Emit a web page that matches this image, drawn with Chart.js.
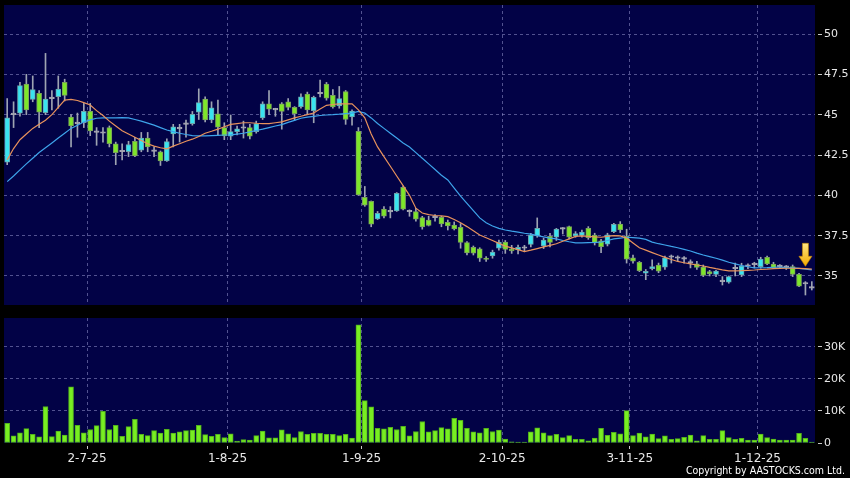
<!DOCTYPE html>
<html>
<head>
<meta charset="utf-8">
<script src="https://cdn.jsdelivr.net/npm/chart.js@4.4.1/dist/chart.umd.min.js"></script>
<style>
    html, body { margin: 0; padding: 0; background: #000; }
    #wrap { position: relative; width: 850px; height: 478px; background: #000; overflow: hidden; }
    #priceBox { position: absolute; left: 0; top: 0; width: 850px; height: 310px; }
    #volBox { position: absolute; left: 0; top: 310px; width: 850px; height: 168px; }
    #copy { position: absolute; right: 5px; top: 464px; color: #fff; white-space: nowrap;
            font: 10.5px 'DejaVu Sans Condensed', 'Liberation Sans', sans-serif; }
</style>
</head>
<body>
<div id="wrap">
    <div id="priceBox"><canvas id="price" width="850" height="310"></canvas></div>
    <div id="volBox"><canvas id="vol" width="850" height="168"></canvas></div>
    <div id="copy">Copyright by AASTOCKS.com Ltd.</div>
</div>
<script>
// trading days shown on the chart
var dates = ['12-6-25','13-6-25','16-6-25','17-6-25','18-6-25','19-6-25','20-6-25','23-6-25','24-6-25','25-6-25','26-6-25','27-6-25','30-6-25',
    '2-7-25','3-7-25','4-7-25','7-7-25','8-7-25','9-7-25','10-7-25','11-7-25','14-7-25','15-7-25','16-7-25','17-7-25','18-7-25','21-7-25','22-7-25','23-7-25','24-7-25','25-7-25','28-7-25','29-7-25','30-7-25','31-7-25',
    '1-8-25','4-8-25','5-8-25','6-8-25','7-8-25','8-8-25','11-8-25','12-8-25','13-8-25','14-8-25','15-8-25','18-8-25','19-8-25','20-8-25','21-8-25','22-8-25','25-8-25','26-8-25','27-8-25','28-8-25','29-8-25',
    '1-9-25','2-9-25','3-9-25','4-9-25','5-9-25','8-9-25','9-9-25','10-9-25','11-9-25','12-9-25','15-9-25','16-9-25','17-9-25','18-9-25','19-9-25','22-9-25','23-9-25','24-9-25','25-9-25','26-9-25','29-9-25','30-9-25',
    '2-10-25','3-10-25','6-10-25','8-10-25','9-10-25','10-10-25','13-10-25','14-10-25','15-10-25','16-10-25','17-10-25','20-10-25','21-10-25','22-10-25','23-10-25','24-10-25','27-10-25','28-10-25','30-10-25','31-10-25',
    '3-11-25','4-11-25','5-11-25','6-11-25','7-11-25','10-11-25','11-11-25','12-11-25','13-11-25','14-11-25','17-11-25','18-11-25','19-11-25','20-11-25','21-11-25','24-11-25','25-11-25','26-11-25','27-11-25','28-11-25',
    '1-12-25','2-12-25','3-12-25','4-12-25','5-12-25','8-12-25','9-12-25','10-12-25','11-12-25'];

var opens = [42.05, 45.0, 45.1, 46.9, 45.95, 46.33, 45.13, 46.0, 46.12, 47.0,
    44.85, 44.45, 44.5, 45.2, 43.9, 43.85, 44.2, 43.2, 42.7, 42.71,
    43.35, 42.8, 43.55, 42.72, 42.7, 42.13, 43.8, 44.12, 44.4, 44.45,
    45.15, 45.96, 44.68, 45.05, 44.2, 43.66, 43.95, 44.16, 44.2, 43.95,
    44.8, 45.67, 45.3, 45.67, 45.8, 45.45, 45.5, 46.27, 45.25, 46.3,
    46.9, 46.2, 45.55, 46.43, 44.86, 43.97, 39.88, 39.62, 38.53, 39.14,
    38.97, 39.03, 40.5, 38.98, 38.99, 38.62, 38.47, 38.62, 38.63, 38.33,
    38.16, 38.02, 37.07, 36.77, 36.69, 36.08, 36.25, 36.72, 37.1, 36.68,
    36.61, 36.72, 36.96, 37.48, 36.86, 37.46, 37.4, 37.9, 38.06, 37.48,
    37.52, 37.96, 37.54, 37.18, 36.97, 37.75, 38.21, 37.45, 36.12, 35.84,
    35.17, 35.45, 35.67, 35.54, 36.16, 36.1, 36.04, 35.8, 35.76, 35.55,
    35.27, 35.1, 34.65, 34.62, 35.45, 35.06, 35.6, 35.7, 35.58, 36.15,
    35.73, 35.58, 35.53, 35.58, 35.1, 34.5, 34.25];

var highs = [46.0, 45.8, 47.0, 47.5, 47.4, 46.5, 48.8, 46.5, 47.4, 47.2,
    45.0, 45.1, 45.7, 45.7, 44.2, 44.2, 44.3, 43.3, 43.2, 43.35,
    43.6, 43.9, 43.9, 43.0, 42.75, 43.5, 44.4, 44.4, 44.67, 45.2,
    46.6, 46.1, 45.8, 45.9, 44.5, 44.98, 44.3, 44.6, 44.4, 44.6,
    45.8, 46.5, 45.4, 45.75, 46.0, 45.5, 46.3, 46.4, 46.15, 47.15,
    47.0, 46.55, 46.75, 46.5, 45.3, 44.2, 40.55, 39.65, 39.0, 39.3,
    39.3, 40.17, 40.58, 39.1, 39.2, 38.7, 38.7, 38.8, 38.7, 38.47,
    38.35, 38.25, 37.13, 36.86, 36.75, 36.2, 36.6, 37.23, 37.2, 36.9,
    36.92, 36.9, 37.65, 38.6, 37.35, 37.65, 37.95, 38.0, 38.1, 37.75,
    37.85, 38.06, 37.65, 37.27, 37.65, 38.27, 38.37, 37.9, 36.3, 35.9,
    35.4, 36.0, 35.8, 36.24, 36.3, 36.25, 36.2, 36.0, 35.9, 35.68,
    35.35, 35.35, 34.96, 35.0, 35.8, 35.79, 35.75, 35.85, 36.16, 36.24,
    35.85, 35.7, 35.65, 35.68, 35.17, 34.65, 34.65];

var lows = [41.9, 44.2, 44.9, 45.0, 45.8, 44.2, 45.0, 45.3, 45.4, 45.85,
    43.0, 43.6, 44.2, 43.7, 43.1, 43.3, 43.0, 41.9, 42.2, 42.4,
    42.4, 42.7, 42.7, 42.4, 41.85, 42.1, 43.0, 43.3, 43.6, 44.35,
    44.7, 44.55, 44.5, 43.75, 43.45, 43.45, 43.75, 43.55, 43.5, 43.85,
    44.7, 45.0, 44.9, 44.1, 45.3, 44.65, 45.4, 45.0, 44.5, 46.1,
    45.9, 45.4, 45.4, 44.4, 44.35, 40.0, 39.32, 38.05, 38.5, 38.6,
    38.6, 39.0, 39.1, 38.7, 38.4, 37.9, 38.1, 38.4, 38.05, 37.85,
    37.85, 36.72, 36.3, 36.3, 35.9, 35.9, 36.1, 36.6, 36.4, 36.4,
    36.36, 36.5, 36.8, 37.4, 36.7, 36.8, 37.2, 37.6, 37.3, 37.4,
    37.4, 37.27, 36.92, 36.45, 36.86, 37.69, 37.69, 35.8, 35.8, 35.27,
    34.77, 35.37, 35.2, 35.41, 35.8, 35.9, 35.8, 35.5, 35.41, 34.96,
    35.0, 34.96, 34.44, 34.55, 35.0, 34.96, 35.45, 35.5, 35.48, 35.7,
    35.45, 35.45, 35.4, 34.96, 34.34, 33.82, 34.13];

var closes = [44.8, 45.0, 46.8, 45.3, 46.55, 45.15, 45.96, 46.0, 46.58, 46.2,
    44.3, 44.45, 45.2, 44.0, 43.9, 43.85, 43.2, 42.65, 42.7, 43.15,
    42.45, 43.55, 43.0, 42.72, 42.13, 43.33, 44.24, 44.12, 44.4, 45.02,
    45.75, 44.68, 45.42, 44.22, 43.68, 43.95, 44.12, 44.16, 43.66, 44.45,
    45.67, 45.34, 45.3, 45.2, 45.45, 45.07, 46.1, 45.3, 46.07, 46.3,
    46.03, 45.48, 46.0, 44.7, 45.22, 40.02, 39.39, 38.21, 38.89, 38.71,
    38.97, 40.13, 39.14, 38.98, 38.52, 38.04, 38.14, 38.62, 38.22, 38.11,
    37.92, 37.08, 36.43, 36.41, 36.1, 36.02, 36.48, 37.1, 36.65, 36.56,
    36.78, 36.72, 37.54, 37.96, 37.23, 37.08, 37.9, 37.9, 37.4, 37.63,
    37.72, 37.37, 37.05, 36.82, 37.55, 38.2, 37.85, 36.04, 35.91, 35.33,
    35.28, 35.58, 35.29, 36.12, 36.16, 36.1, 36.04, 35.8, 35.53, 35.03,
    35.13, 35.3, 34.65, 34.96, 35.45, 35.62, 35.6, 35.7, 36.04, 35.75,
    35.5, 35.58, 35.53, 35.1, 34.37, 34.5, 34.25];

// moving averages as drawn (orange = short, blue = long)
var maShort = [42.2, 42.9, 43.45, 43.8, 44.15, 44.4, 44.65, 45.0, 45.45, 45.9,
    45.95, 45.88, 45.75, 45.6, 45.25, 44.95, 44.6, 44.3, 44.0, 43.8,
    43.6, 43.4, 43.2, 43.05, 42.95, 42.88, 43.05, 43.2, 43.35, 43.48,
    43.65, 43.85, 43.97, 44.1, 44.25, 44.4, 44.45, 44.5, 44.5, 44.47,
    44.45, 44.45, 44.5, 44.55, 44.68, 44.8, 44.9, 45.0, 45.1, 45.35,
    45.58, 45.63, 45.67, 45.67, 45.67, 45.3, 44.8, 43.8, 43.0, 42.4,
    41.8, 41.2, 40.6, 40.0, 39.2, 38.9, 38.8, 38.75, 38.72, 38.68,
    38.5, 38.3, 38.06, 37.8, 37.54, 37.37, 37.2, 37.02, 36.85, 36.74,
    36.63, 36.51, 36.6, 36.7, 36.8, 36.9, 37.0, 37.15, 37.3, 37.45,
    37.48, 37.45, 37.42, 37.4, 37.45, 37.5, 37.48, 37.35, 37.05, 36.75,
    36.6, 36.45, 36.3, 36.15, 36.02, 35.9, 35.82, 35.75, 35.68, 35.62,
    35.53, 35.45, 35.38, 35.32, 35.32, 35.33, 35.35, 35.37, 35.4, 35.42,
    35.45, 35.47, 35.48, 35.48, 35.47, 35.45, 35.43];

var maLong = [40.85, 41.2, 41.58, 41.95, 42.3, 42.65, 42.95, 43.25, 43.55, 43.85,
    44.15, 44.35, 44.55, 44.68, 44.78, 44.8, 44.8, 44.8, 44.82, 44.8,
    44.7, 44.6, 44.48, 44.35, 44.2, 44.05, 43.95, 43.85, 43.77, 43.7,
    43.69, 43.68, 43.7, 43.72, 43.74, 43.75, 43.8, 43.85, 43.93, 44.02,
    44.1, 44.2, 44.3, 44.38, 44.52, 44.65, 44.78, 44.85, 44.9, 44.95,
    44.98, 45.0, 45.03, 45.07, 45.1, 45.2, 45.1, 44.8, 44.45, 44.15,
    43.85, 43.55, 43.25, 43.0, 42.65, 42.3, 41.95, 41.6, 41.25, 40.95,
    40.45, 39.95, 39.5, 39.05, 38.6, 38.3, 38.1, 37.95, 37.85, 37.78,
    37.72, 37.65, 37.6, 37.5, 37.42, 37.35, 37.3, 37.2, 37.12, 37.05,
    37.05, 37.07, 37.08, 37.1, 37.2, 37.3, 37.35, 37.4, 37.38, 37.35,
    37.27, 37.1, 37.0, 36.92, 36.83, 36.75, 36.65, 36.55, 36.42, 36.3,
    36.2, 36.1, 35.98, 35.85, 35.75, 35.65, 35.57, 35.5, 35.51, 35.52,
    35.54, 35.55, 35.52, 35.5, 35.47, 35.43, 35.38];

var volumes = [6100, 2200, 3200, 4500, 2700, 1900, 11400, 2000, 3750, 2500,
    17500, 5500, 3200, 4200, 5400, 9900, 4200, 5500, 2100, 5100,
    7400, 2700, 2300, 3850, 3100, 4300, 3100, 3500, 3850, 4000,
    5500, 2600, 2100, 2700, 1700, 2900, 600, 1100, 900, 2300,
    3750, 1600, 1600, 4100, 2900, 1700, 3600, 2700, 3000, 3000,
    2700, 2700, 2300, 2700, 1500, 36900, 13200, 11250, 4600, 4400,
    4900, 4200, 5200, 2200, 3600, 6700, 3500, 3850, 4800, 4400,
    7700, 7100, 4600, 3500, 3200, 4600, 3600, 4000, 1250, 400,
    200, 200, 3500, 4700, 3200, 2300, 2700, 1700, 2300, 1150,
    1150, 700, 1500, 4600, 2400, 3300, 2900, 10100, 2300, 3100,
    1900, 2800, 1350, 2200, 1150, 1350, 1800, 2500, 700, 2300,
    1150, 1150, 3850, 1700, 1150, 1450, 950, 950, 2800, 1700,
    1250, 950, 950, 950, 3000, 1450, 100];

var tickLabels = ['2-7-25', '1-8-25', '1-9-25', '2-10-25', '3-11-25', '1-12-25'];
var priceTicks = [35, 37.5, 40, 42.5, 45, 47.5, 50];
var volumeTicks = [0, 10000, 20000, 30000];

// arrow marker on the last bars
var markerIndex = 125;
var markerPrice = 35.6;

var NAVY = '#020246';
var GRID = 'rgba(150, 150, 205, 0.55)';
var TICK_TXT = '#e8e8e8';
var UP = '#3ae4f0', DOWN = '#7ee62a', FLAT = '#a8a8b4';

// grid lines sit at the left edge of the first trading day of each month
var tickPos = tickLabels.map(function (l) { return dates.indexOf(l) - 0.5; });

function candleColor(i) {
    if (closes[i] > opens[i]) return UP;
    if (closes[i] < opens[i]) return DOWN;
    return FLAT;
}

var areaFill = {
    id: 'areaFill',
    beforeDraw: function (chart) {
        var a = chart.chartArea, ctx = chart.ctx;
        ctx.save();
        ctx.fillStyle = '#000';
        ctx.fillRect(0, 0, chart.width, chart.height);
        ctx.fillStyle = NAVY;
        ctx.fillRect(a.left, a.top, a.right - a.left, a.bottom - a.top);
        ctx.restore();
    }
};

var arrowMark = {
    id: 'arrowMark',
    afterDatasetsDraw: function (chart) {
        var ctx = chart.ctx;
        var x = chart.scales.x.getPixelForValue(markerIndex);
        var tip = chart.scales.y.getPixelForValue(markerPrice);
        var g = ctx.createLinearGradient(0, tip - 23, 0, tip);
        g.addColorStop(0, '#ffe680');
        g.addColorStop(1, '#f2a900');
        ctx.save();
        ctx.beginPath();
        ctx.moveTo(x - 3, tip - 23);
        ctx.lineTo(x + 3, tip - 23);
        ctx.lineTo(x + 3, tip - 10);
        ctx.lineTo(x + 6.5, tip - 10);
        ctx.lineTo(x, tip);
        ctx.lineTo(x - 6.5, tip - 10);
        ctx.lineTo(x - 3, tip - 10);
        ctx.closePath();
        ctx.fillStyle = g;
        ctx.fill();
        ctx.strokeStyle = '#c88a00';
        ctx.lineWidth = 0.6;
        ctx.stroke();
        ctx.restore();
    }
};

function noPad(s) {
    s.paddingTop = 0;
    s.paddingBottom = 0;
    s.paddingLeft = 0;
    s.paddingRight = 0;
}

function xScale(showLabels) {
    return {
        type: 'linear',
        min: -0.5,
        max: dates.length - 0.5,
        offset: false,
        afterBuildTicks: function (s) {
            s.ticks = tickPos.map(function (v) { return { value: v }; });
        },
        afterFit: function (s) {
            s.height = showLabels ? 35 : 0;
            noPad(s);
        },
        grid: {
            color: GRID,
            offset: false,
            drawTicks: showLabels,
            tickLength: 6,
            tickColor: '#c8c8c8',
            tickBorderDash: [0, 3, 3, 20]
        },
        border: { display: false, dash: [3, 3] },
        ticks: {
            display: showLabels,
            color: TICK_TXT,
            padding: 3,
            maxRotation: 0,
            autoSkip: false,
            font: { family: 'DejaVu Sans', size: 12 },
            callback: function (v) { return tickLabels[tickPos.indexOf(v)]; }
        }
    };
}

function yScale(min, max, ticks, fmt) {
    return {
        position: 'right',
        min: min,
        max: max,
        afterBuildTicks: function (s) {
            s.ticks = ticks.map(function (v) { return { value: v }; });
        },
        afterFit: function (s) {
            s.width = 35;
            noPad(s);
        },
        grid: {
            color: function (c) { return c.tick && c.tick.value === 0 ? 'rgba(0,0,0,0)' : GRID; },
            drawTicks: true,
            tickLength: 7,
            tickColor: '#c8c8c8',
            tickBorderDash: [0, 3, 4, 20]
        },
        border: { display: false, dash: [3, 3] },
        ticks: {
            color: TICK_TXT,
            padding: 2,
            font: { family: 'DejaVu Sans', size: 11 },
            callback: fmt
        }
    };
}

new Chart(document.getElementById('price'), {
    type: 'bar',
    data: {
        datasets: [{
            type: 'line',
            data: maShort.map(function (v, i) { return { x: i, y: v }; }),
            borderColor: '#e8925c',
            borderWidth: 1.2,
            pointRadius: 0,
            tension: 0,
            order: 0
        }, {
            type: 'line',
            data: maLong.map(function (v, i) { return { x: i, y: v }; }),
            borderColor: '#3ea4ea',
            borderWidth: 1.2,
            pointRadius: 0,
            tension: 0,
            order: 1
        }, {
            data: opens.map(function (o, i) { return { x: i, y: [o, closes[i]] }; }),
            backgroundColor: function (c) { return candleColor(c.dataIndex); },
            borderColor: function (c) {
                var col = candleColor(c.dataIndex);
                return col === UP ? '#6aa4aa' : (col === DOWN ? '#7aa05c' : FLAT);
            },
            borderWidth: 1,
            borderSkipped: false,
            barThickness: 5,
            minBarLength: 1.5,
            grouped: false,
            order: 2
        }, {
            data: lows.map(function (l, i) { return { x: i, y: [l, highs[i]] }; }),
            backgroundColor: '#9ea4b2',
            barThickness: 1,
            grouped: false,
            order: 3
        }]
    },
    options: {
        responsive: false,
        animation: false,
        events: [],
        layout: { padding: { left: 4, top: 5, right: 0, bottom: 5 } },
        plugins: { legend: { display: false }, tooltip: { enabled: false } },
        scales: {
            x: xScale(false),
            y: yScale(33.2, 51.8, priceTicks, function (v) { return String(v); })
        }
    },
    plugins: [areaFill, arrowMark]
});

new Chart(document.getElementById('vol'), {
    type: 'bar',
    data: {
        datasets: [{
            data: volumes.map(function (v, i) { return { x: i, y: v }; }),
            backgroundColor: '#78ee22',
            borderColor: '#52b01c',
            borderWidth: 1,
            borderSkipped: false,
            barThickness: 5,
            minBarLength: 1
        }]
    },
    options: {
        responsive: false,
        animation: false,
        events: [],
        layout: { padding: { left: 4, top: 8, right: 0, bottom: 0 } },
        plugins: { legend: { display: false }, tooltip: { enabled: false } },
        scales: {
            x: xScale(true),
            y: yScale(0, 39000, volumeTicks, function (v) { return v === 0 ? '0' : (v / 1000) + 'K'; })
        }
    },
    plugins: [areaFill]
});
</script>
</body>
</html>
